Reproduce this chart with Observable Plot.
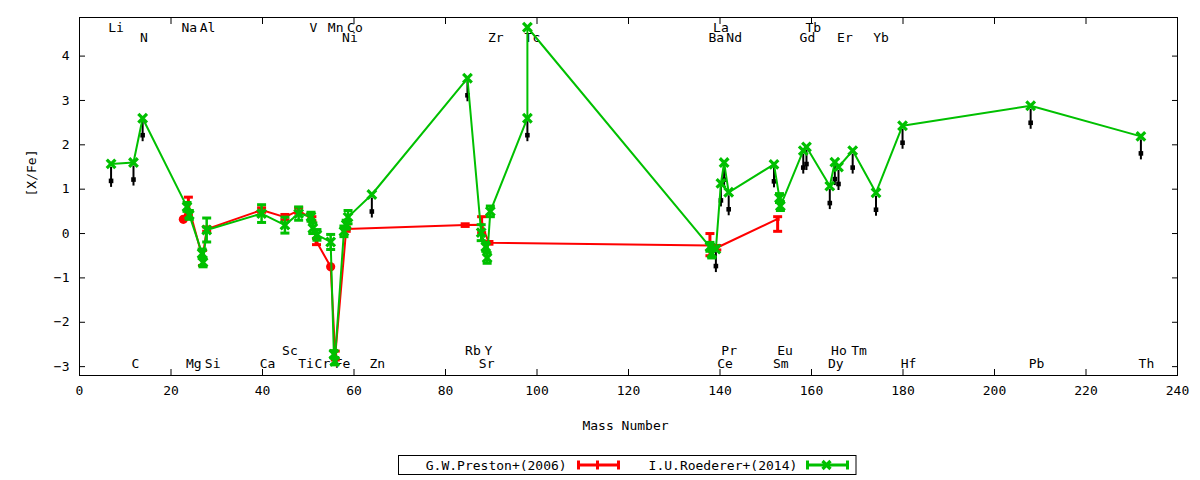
<!DOCTYPE html>
<html><head><meta charset="utf-8">
<script src="https://cdn.jsdelivr.net/npm/d3@7"></script>
<script src="https://cdn.jsdelivr.net/npm/@observablehq/plot@0.6"></script>
<style>
body{margin:0;background:#fff;font-family:"DejaVu Sans Mono",monospace;}
#wrap{position:relative;width:1200px;height:480px;}
#legend{position:absolute;left:0;top:440px;}
</style></head><body><div id="wrap"><div id="chart"></div><div id="legend"></div></div>
<script>
// ---- data: I.U.Roederer+(2014) ----
const roedererMass  = [6.9,11.8,13.8,23.5,24.0,26.8,27.0,27.8,39.8,44.9,47.9,50.6,51.0,51.9,54.9,55.6,55.8,57.8,58.3,58.7,63.9,84.8,87.8,88.8,89.1,89.8,97.9,97.9,137.8,138.2,139.1,140.2,140.9,141.9,151.8,153.0,153.2,158.2,158.9,164.0,165.1,165.9,169.0,174.1,179.9,207.9,232.0];
const roedererValue = [1.57,1.60,2.60,0.60,0.42,-0.45,-0.65,0.08,0.45,0.19,0.45,0.38,0.12,-0.03,-0.19,-2.72,-2.88,0.05,0.20,0.37,0.88,3.50,0.02,-0.30,-0.55,0.50,2.60,4.65,-0.30,-0.45,-0.35,1.13,1.60,0.93,1.56,0.80,0.62,1.87,1.95,1.07,1.61,1.50,1.87,0.92,2.43,2.88,2.19];
const roedererError = [0,0,0,0.10,0.10,0.10,0.10,0.27,0.20,0.18,0.15,0.10,0.12,0.12,0.17,0.08,0.08,0.12,0.10,0.15,0,0,0.18,0.10,0.12,0.12,0,0,0.10,0.10,0,0,0,0,0,0.10,0.10,0,0,0,0,0,0,0,0,0,0];
const roedererUpper = [1,1,1,0,0,0,0,0,0,0,0,0,0,0,0,0,0,0,0,0,1,1,0,0,0,0,1,0,0,0,1,1,1,1,1,0,0,1,1,1,1,1,1,1,1,1,1];

// ---- data: G.W.Preston+(2006) ----
const prestonMass    = [22.7,23.8,26.9,27.8,39.8,44.9,47.9,50.8,51.8,54.9,55.9,58.3,84.3,87.9,89.5,137.8,139.3,152.6];
const prestonValue   = [0.32,0.62,-0.55,0.10,0.53,0.37,0.52,0.33,-0.18,-0.75,-2.75,0.10,0.19,0.20,-0.21,-0.27,-0.32,0.33];
const prestonErrLow  = [null,0.20,0.17,0.05,0.05,0.06,0.06,0.05,0.07,null,0.10,0.05,0.03,0.18,0.03,0.23,0.05,0.28];
const prestonErrHigh = [null,0.20,0.17,0.05,0.05,0.06,0.06,0.05,0.07,null,0.10,0.05,0.03,0.18,0.03,0.27,0.05,0.05];

// ---- element labels ----
const topRow1 = ["Li","Na","Al","V","Mn","Co","La","Tb"];
const topRow1Mass = [8.0,24.0,28.0,51.1,56.0,60.2,140.2,160.4];
const topRow2 = ["N","Ni","Zr","Tc","Ba","Nd","Gd","Er","Yb"];
const topRow2Mass = [14.1,59.1,91.0,99.0,139.2,143.1,159.1,167.3,175.2];
const bottomRow1 = ["Sc","Rb","Y","Pr","Eu","Ho","Tm"];
const bottomRow1Mass = [46.0,86.0,89.4,142.0,154.2,166.0,170.4];
const bottomRow2 = ["C","Mg","Si","Ca","Ti","Cr","Fe","Zn","Sr","Ce","Sm","Dy","Hf","Pb","Th"];
const bottomRow2Mass = [12.2,25.0,29.1,41.1,49.5,53.1,57.5,65.1,89.0,141.1,153.3,165.3,181.2,209.2,233.2];

// ---- axes ----
const xTicks = [0,20,40,60,80,100,120,140,160,180,200,220,240];
const yTicks = [-3,-2,-1,0,1,2,3,4];
const xDomain = [0,240];
const yDomain = [-3.2,4.87];

const GREEN = "#00c000", RED = "#ff0000", FONT = "DejaVu Sans Mono";

const roederer = roedererMass.map((m,i)=>({mass:m, value:roedererValue[i], err:roedererError[i], upper:roedererUpper[i]===1}));
const preston = prestonMass.map((m,i)=>({mass:m, value:prestonValue[i], lo:prestonErrLow[i], hi:prestonErrHigh[i]}));
const rErr = roederer.filter(d=>d.err>0);
const rUp = roederer.filter(d=>d.upper);
const pErr = preston.filter(d=>d.lo!=null);
const pNoErr = preston.filter(d=>d.lo==null);

const capSym = {draw(ctx,size){const w=Math.sqrt(size/Math.PI);ctx.moveTo(-w,0);ctx.lineTo(w,0);}};
const downSym = {draw(ctx,size){ctx.moveTo(0,3);ctx.lineTo(0,23);}};
const lbl = (names, masses) => names.map((n,i)=>({name:n, mass:masses[i]}));
const textOpts = {x:"mass", text:"name", fontSize:13, fontFamily:FONT, fill:"black", lineAnchor:"middle"};

const chart = Plot.plot({
  width:1200, height:440,
  marginLeft:79, marginRight:23, marginTop:17, marginBottom:65,
  style:{fontFamily:FONT, fontSize:"13px", background:"white", color:"black"},
  x:{domain:xDomain},
  y:{domain:yDomain},
  marks:[
    Plot.text(lbl(topRow1, topRow1Mass), {...textOpts, frameAnchor:"top", dy:10.5}),
    Plot.text(lbl(topRow2, topRow2Mass), {...textOpts, frameAnchor:"top", dy:20.5}),
    Plot.text(lbl(bottomRow1, bottomRow1Mass), {...textOpts, frameAnchor:"bottom", dy:-25}),
    Plot.text(lbl(bottomRow2, bottomRow2Mass), {...textOpts, frameAnchor:"bottom", dy:-11.5}),
    // upper-limit arrows
    Plot.dot(rUp, {x:"mass", y:"value", symbol:downSym, r:5, stroke:"black", strokeWidth:2, fill:"none"}),
    Plot.dot(rUp, {x:"mass", y:"value", symbol:"square", r:2.6, fill:"black", dy:17}),
    // Preston
    Plot.line(preston, {x:"mass", y:"value", stroke:RED, strokeWidth:2}),
    Plot.ruleX(pErr, {x:"mass", y1:d=>d.value-d.lo, y2:d=>d.value+d.hi, stroke:RED, strokeWidth:3}),
    Plot.dot(pErr, {x:"mass", y:d=>d.value-d.lo, symbol:capSym, r:4.5, stroke:RED, strokeWidth:3}),
    Plot.dot(pErr, {x:"mass", y:d=>d.value+d.hi, symbol:capSym, r:4.5, stroke:RED, strokeWidth:3}),
    Plot.dot(pErr, {x:"mass", y:"value", symbol:"square", r:2.2, fill:RED}),
    Plot.dot(pNoErr, {x:"mass", y:"value", symbol:"circle", r:4.6, fill:RED}),
    // Roederer
    Plot.line(roederer, {x:"mass", y:"value", stroke:GREEN, strokeWidth:2}),
    Plot.ruleX(rErr, {x:"mass", y1:d=>d.value-d.err, y2:d=>d.value+d.err, stroke:GREEN, strokeWidth:2.5}),
    Plot.dot(rErr, {x:"mass", y:d=>d.value-d.err, symbol:capSym, r:4.5, stroke:GREEN, strokeWidth:3}),
    Plot.dot(rErr, {x:"mass", y:d=>d.value+d.err, symbol:capSym, r:4.5, stroke:GREEN, strokeWidth:3}),
    Plot.dot(roederer, {x:"mass", y:"value", symbol:"times", r:4, stroke:GREEN, strokeWidth:3.2}),
    // frame and axes
    Plot.frame({stroke:"black", strokeWidth:1}),
    Plot.axisX({anchor:"bottom", ticks:xTicks, tickSize:0, tickPadding:10, label:null, fontSize:13}),
    Plot.axisY({anchor:"left", ticks:yTicks, tickSize:0, tickPadding:10, label:null, fontSize:13}),
    Plot.axisX({anchor:"bottom", ticks:xTicks, tickSize:6, dy:-6, tickFormat:()=>"", label:null}),
    Plot.axisX({anchor:"top", ticks:xTicks, tickSize:6, dy:6, tickFormat:()=>"", label:null}),
    Plot.axisY({anchor:"left", ticks:yTicks, tickSize:6, dx:6, tickFormat:()=>"", label:null}),
    Plot.axisY({anchor:"right", ticks:yTicks, tickSize:6, dx:-6, tickFormat:()=>"", label:null}),
    Plot.text(["Mass Number"], {frameAnchor:"bottom", dy:50, dx:-3, fontSize:13, fontFamily:FONT, lineAnchor:"middle"}),
    Plot.text(["[X/Fe]"], {frameAnchor:"left", dx:-48, rotate:-90, fontSize:13, fontFamily:FONT, lineAnchor:"middle"})
  ]
});
document.getElementById("chart").appendChild(chart);

// ---- legend ----
const legendItems = ["G.W.Preston+(2006)", "I.U.Roederer+(2014)"];
const legendColors = [RED, GREEN];
const lg = d3.select("#legend").append("svg").attr("width",1200).attr("height",40)
  .style("font-family",FONT).style("font-size","13px");
lg.append("rect").attr("x",398.5).attr("y",15.5).attr("width",457.5).attr("height",19)
  .attr("fill","none").attr("stroke","black");
const textEnds = [566.7, 797.3];
const sampleStarts = [577, 806];
legendItems.forEach((t,i)=>{
  lg.append("text").attr("x",textEnds[i]).attr("y",25).attr("text-anchor","end")
    .attr("dominant-baseline","central").text(t);
  const x0 = sampleStarts[i], x1 = x0+43, yc = 25, c = legendColors[i];
  lg.append("line").attr("x1",x0).attr("x2",x1).attr("y1",yc).attr("y2",yc).attr("stroke",c).attr("stroke-width",3);
  [x0+1.5,x1-1.5].forEach(xx=>lg.append("line").attr("x1",xx).attr("x2",xx).attr("y1",yc-4.5).attr("y2",yc+4.5).attr("stroke",c).attr("stroke-width",3));
  const xm = (x0+x1)/2 - 1;
  if (i===0) {
    lg.append("line").attr("x1",xm).attr("x2",xm).attr("y1",yc-4.5).attr("y2",yc+4.5).attr("stroke",c).attr("stroke-width",3);
  } else {
    lg.append("path").attr("d",`M${xm-4},${yc-4}L${xm+4},${yc+4}M${xm-4},${yc+4}L${xm+4},${yc-4}`).attr("stroke",c).attr("stroke-width",3.2);
  }
});
</script></body></html>
